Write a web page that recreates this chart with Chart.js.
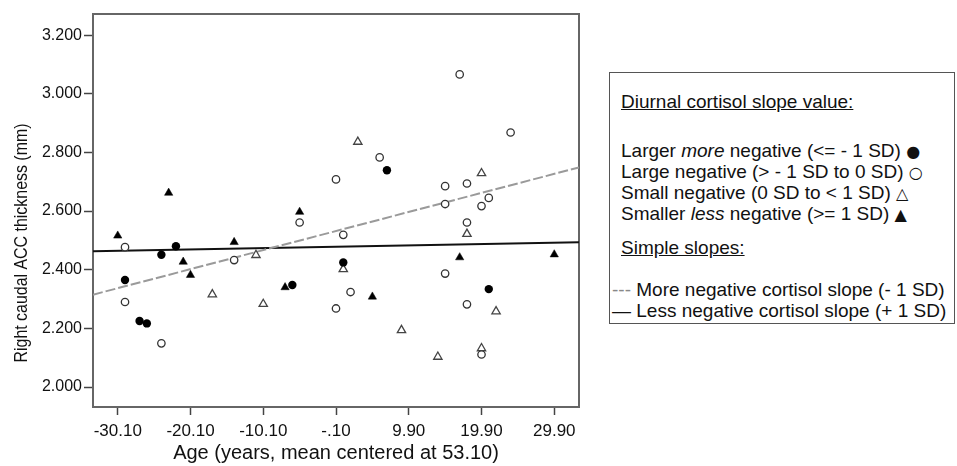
<!DOCTYPE html>
<html><head><meta charset="utf-8">
<script src="https://cdn.jsdelivr.net/npm/chart.js@4.4.1/dist/chart.umd.min.js"></script>
<style>
html,body{margin:0;padding:0;background:#fff;}
#wrap{position:relative;width:957px;height:466px;overflow:hidden;}
#c{position:absolute;left:0;top:0;}
#legend{position:absolute;left:609px;top:72px;width:346px;height:252px;border:1px solid #555;box-sizing:border-box;font-family:"Liberation Sans",Arial,sans-serif;font-size:19px;color:#111;background:#fff;}
.ln{position:absolute;white-space:nowrap;line-height:21px;}
.sym{font-family:"DejaVu Sans",sans-serif;font-size:16px;}
</style></head>
<body>
<div id="wrap">
<canvas id="c" width="957" height="466"></canvas>
<div id="legend">
 <div class="ln" style="top:18px;left:11px"><u>Diurnal cortisol slope value:</u></div>
 <div class="ln" style="top:67px;left:11px">Larger <i>more</i> negative (&lt;= - 1 SD) <span class="sym">●</span></div>
 <div class="ln" style="top:88px;left:11px">Large negative (&gt; - 1 SD to 0 SD) <span class="sym">○</span></div>
 <div class="ln" style="top:109px;left:11px">Small negative (0 SD to &lt; 1 SD) <span class="sym">△</span></div>
 <div class="ln" style="top:130px;left:11px">Smaller <i>less</i> negative (&gt;= 1 SD) <span class="sym">▲</span></div>
 <div class="ln" style="top:164px;left:11px"><u>Simple slopes:</u></div>
 <div class="ln" style="top:206px;left:2px"><span style="color:#888">---</span> More negative cortisol slope (- 1 SD)</div>
 <div class="ln" style="top:227px;left:2px">— Less negative cortisol slope (+ 1 SD)</div>
</div>
</div>
<script>
// ---- data ----
const largerMoreNegative = [
  [-29.1,2.365],[-27.1,2.225],[-26.1,2.217],[-24.1,2.451],[-22.1,2.480],
  [-6.1,2.348],[0.9,2.425],[6.9,2.739],[20.9,2.334]
];
const largeNegative = [
  [-29.1,2.477],[-29.1,2.290],[-24.1,2.149],[-14.1,2.433],[-5.1,2.561],
  [-0.1,2.268],[-0.1,2.708],[0.9,2.519],[1.9,2.324],[5.9,2.783],
  [14.9,2.685],[14.9,2.624],[14.9,2.387],[16.9,3.066],[17.9,2.694],
  [17.9,2.561],[17.9,2.282],[19.9,2.617],[20.9,2.645],[19.9,2.111],[23.9,2.868]
];
const smallNegative = [
  [-17.1,2.316],[-11.1,2.450],[-10.1,2.283],[0.9,2.402],[2.9,2.836],
  [8.9,2.194],[13.9,2.103],[17.9,2.522],[19.9,2.729],[19.9,2.132],[21.9,2.258]
];
const smallerLessNegative = [
  [-30.1,2.516],[-23.1,2.662],[-21.1,2.427],[-20.1,2.382],[-14.1,2.494],
  [-7.1,2.340],[-5.1,2.597],[4.9,2.308],[16.9,2.442],[29.9,2.452]
];
const slopeMoreNegative = [[-33.5,2.315],[33.3,2.749]];
const slopeLessNegative = [[-33.5,2.463],[33.3,2.494]];
const xTickValues = [-30.1,-20.1,-10.1,-0.1,9.9,19.9,29.9];
const xTickLabels = ["-30.10","-20.10","-10.10","-.10","9.90","19.90","29.90"];
const yTickValues = [2.0,2.2,2.4,2.6,2.8,3.0,3.2];
const yTickLabels = ["2.000","2.200","2.400","2.600","2.800","3.000","3.200"];
const xTitle = "Age (years, mean centered at 53.10)";
const yTitle = "Right caudal ACC thickness (mm)";
const X_MIN = -33.5, X_MAX = 33.3, Y_MIN = 1.932, Y_MAX = 3.272;

const pts = a => a.map(p => ({x:p[0], y:p[1]}));
const FONT = '"Liberation Sans", Arial, sans-serif';

const framePlugin = {
  id:'frame',
  beforeDatasetsDraw(chart){
    const {ctx, chartArea:a} = chart;
    ctx.save();
    ctx.strokeStyle = '#666';
    ctx.lineWidth = 2;
    ctx.strokeRect(a.left, a.top, a.right-a.left, a.bottom-a.top);
    ctx.restore();
  },
  afterDraw(chart){
    const ctx = chart.ctx;
    ctx.save();
    ctx.font = '19px ' + FONT;
    const w = ctx.measureText(yTitle).width;
    ctx.translate(22, 243);
    ctx.rotate(-Math.PI/2);
    ctx.scale(239 / w, 1);
    ctx.fillStyle = '#111';
    ctx.textAlign = 'center';
    ctx.textBaseline = 'middle';
    ctx.fillText(yTitle, 0, 0);
    ctx.restore();
  }
};

new Chart(document.getElementById('c'), {
  type:'scatter',
  data:{datasets:[
    {label:'Larger more negative', data:pts(largerMoreNegative), pointStyle:'circle', pointRadius:4.2, backgroundColor:'#000', borderColor:'#000', borderWidth:0},
    {label:'Large negative', data:pts(largeNegative), pointStyle:'circle', pointRadius:3.7, backgroundColor:'#fff', borderColor:'#333', borderWidth:1.3},
    {label:'Small negative', data:pts(smallNegative), pointStyle:'triangle', pointRadius:4.8, backgroundColor:'#fff', borderColor:'#444', borderWidth:1.3},
    {label:'Smaller less negative', data:pts(smallerLessNegative), pointStyle:'triangle', pointRadius:4.8, backgroundColor:'#000', borderColor:'#000', borderWidth:0.5},
    {label:'More negative cortisol slope', data:pts(slopeMoreNegative), showLine:true, pointRadius:0, borderColor:'#9a9a9a', borderWidth:2, borderDash:[10,3], order:5},
    {label:'Less negative cortisol slope', data:pts(slopeLessNegative), showLine:true, pointRadius:0, borderColor:'#111', borderWidth:2, order:5}
  ]},
  options:{
    responsive:false, animation:false, devicePixelRatio:1,
    layout:{padding:{left:0, top:14, right:957-579, bottom:0}},
    plugins:{legend:{display:false}, tooltip:{enabled:false}},
    scales:{
      x:{type:'linear', min:X_MIN, max:X_MAX,
        afterBuildTicks:s=>{s.ticks = xTickValues.map(v=>({value:v}));},
        afterFit:s=>{s.height = 466-407;},
        ticks:{autoSkip:false, maxRotation:0, padding:6, color:'#111', font:{family:FONT, size:17},
          callback:(v,i)=>xTickLabels[i]},
        grid:{drawOnChartArea:false, drawTicks:true, tickLength:8, tickColor:'#444', tickWidth:1.5},
        border:{display:false},
        title:{display:true, text:xTitle, color:'#111', font:{family:FONT, size:20}, padding:{top:0,bottom:1}}
      },
      y:{type:'linear', min:Y_MIN, max:Y_MAX,
        afterBuildTicks:s=>{s.ticks = yTickValues.map(v=>({value:v}));},
        afterFit:s=>{s.width = 93;},
        ticks:{autoSkip:false, padding:2, color:'#111', font:{family:FONT, size:16},
          callback:(v,i)=>yTickLabels[i]},
        grid:{drawOnChartArea:false, drawTicks:true, tickLength:9, tickColor:'#444', tickWidth:1.5},
        border:{display:false}
      }
    }
  },
  plugins:[framePlugin]
});
</script>
</body></html>
